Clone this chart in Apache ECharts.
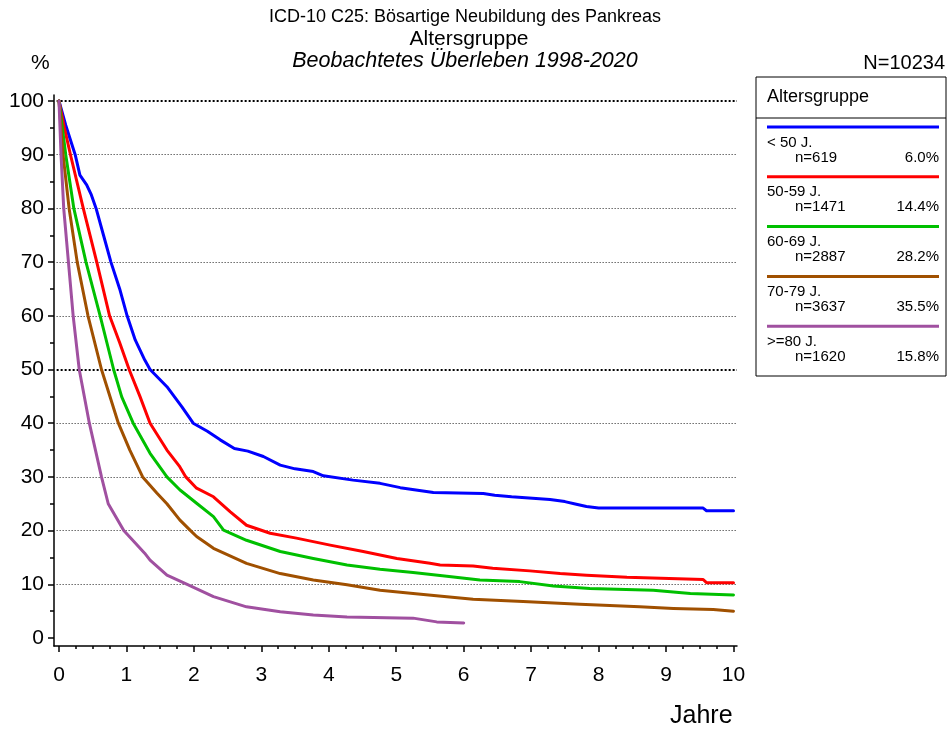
<!DOCTYPE html>
<html>
<head>
<meta charset="utf-8">
<script src="https://cdn.jsdelivr.net/npm/echarts@6/dist/echarts.min.js"></script>
<style>html,body{margin:0;padding:0;background:#fff}#c{width:949px;height:729px}</style>
</head>
<body>
<div id="c"></div>
<script>
// ---- data ----
const groupNames = ['< 50 J.', '50-59 J.', '60-69 J.', '70-79 J.', '>=80 J.'];
const groupCounts = ['n=619', 'n=1471', 'n=2887', 'n=3637', 'n=1620'];
const groupShares = ['6.0%', '14.4%', '28.2%', '35.5%', '15.8%'];
const groupColors = ['#0000ff', '#ff0000', '#00c000', '#a05000', '#a050a0'];
const xTicks = [0,1,2,3,4,5,6,7,8,9,10];
const xMinorTicks = [0.25,0.5,0.75,1.25,1.5,1.75,2.25,2.5,2.75,3.25,3.5,3.75,4.25,4.5,4.75,5.25,5.5,5.75,6.25,6.5,6.75,7.25,7.5,7.75,8.25,8.5,8.75,9.25,9.5,9.75];
const yTicks = [0,10,20,30,40,50,60,70,80,90,100];
const yMinorTicks = [5,15,25,35,45,55,65,75,85,95];
const gridValues = [10,20,30,40,60,70,80,90];
const gridValuesBold = [50,100];

const under50 = [[0,100],[0.1,95.5],[0.24,90],[0.31,86.2],[0.41,84.4],[0.48,82.5],[0.55,80],[0.66,75],[0.77,70],[0.9,65],[1.01,60],[1.13,55.5],[1.27,51.8],[1.35,50],[1.6,46.8],[1.82,43.1],[1.99,40],[2.2,38.5],[2.39,36.9],[2.6,35.3],[2.8,34.8],[3.03,33.8],[3.28,32.2],[3.5,31.5],[3.77,31.0],[3.92,30.2],[4.36,29.4],[4.76,28.8],[5.06,28.0],[5.55,27.1],[6.29,26.9],[6.46,26.6],[6.71,26.3],[7.28,25.8],[7.5,25.4],[7.67,24.9],[7.82,24.5],[8.0,24.2],[9.55,24.2],[9.6,23.7],[10,23.7]];
const age5059 = [[0,100],[0.08,95],[0.17,90],[0.36,80],[0.56,70],[0.75,60],[0.9,55],[1.04,50],[1.2,45],[1.35,40],[1.6,35],[1.79,31.9],[1.88,30],[2.04,27.9],[2.29,26.3],[2.54,23.5],[2.78,21.0],[3.13,19.5],[3.52,18.6],[4.02,17.3],[4.51,16.1],[5.01,14.8],[5.5,13.9],[5.65,13.6],[6.14,13.4],[6.43,13.0],[6.98,12.5],[7.43,12.0],[7.82,11.7],[8.42,11.3],[9.55,10.9],[9.6,10.3],[10,10.3]];
const age6069 = [[0,100],[0.05,95],[0.10,90],[0.22,80],[0.40,70],[0.61,60],[0.81,50],[0.93,44.9],[1.10,40],[1.35,34.4],[1.6,30],[1.79,27.6],[2.04,25.1],[2.29,22.6],[2.44,20.1],[2.78,18.2],[3.28,16.1],[3.77,14.8],[4.27,13.6],[4.76,12.8],[5.25,12.2],[5.75,11.5],[6.24,10.8],[6.83,10.5],[7.33,9.7],[7.87,9.2],[8.81,8.9],[9.36,8.3],[10,8.0]];
const age7079 = [[0,100],[0.03,95],[0.06,90],[0.15,80],[0.27,70],[0.43,60],[0.63,50],[0.88,40],[1.05,35],[1.24,30],[1.45,27],[1.6,25],[1.79,22.0],[1.95,20],[2.04,18.9],[2.29,16.7],[2.78,13.9],[3.28,12.0],[3.77,10.8],[4.27,9.9],[4.76,8.9],[5.25,8.3],[5.75,7.7],[6.14,7.2],[6.88,6.8],[7.72,6.3],[8.61,5.8],[9.11,5.5],[9.7,5.3],[10,5.0]];
const age80plus = [[0,100],[0.015,95],[0.03,90],[0.07,80],[0.14,70],[0.21,60],[0.30,50],[0.45,40],[0.63,30],[0.73,25],[0.96,20],[1.27,15.8],[1.35,14.5],[1.6,11.7],[1.9,10],[2.29,7.7],[2.78,5.8],[3.28,4.9],[3.77,4.3],[4.27,3.9],[5.25,3.7],[5.6,3.0],[6.0,2.8]];
const seriesData = [under50, age5059, age6069, age7079, age80plus];

// ---- chart ----
const chart = echarts.init(document.getElementById('c'), null, {renderer: 'canvas'});
const FONT = 'Liberation Sans, Arial, sans-serif';
const X_MIN = -0.0741, X_MAX = 10.052, Y_MIN = -1.49, Y_MAX = 101.12;

const series = seriesData.map((d, i) => ({
  type: 'line', name: groupNames[i], data: d, xAxisIndex: 0, yAxisIndex: 0,
  showSymbol: false, symbol: 'none', silent: true, z: 5 + i,
  lineStyle: {color: groupColors[i], width: 3, join: 'round', cap: 'round'}, itemStyle: {color: groupColors[i]}
}));
const gridLine = (v, bold) => [
  {coord: [-0.035, v], lineStyle: bold ? {color: '#000', width: 2, type: [2, 2]} : {color: '#222', width: 1, type: [1, 2]}},
  {coord: [X_MAX, v]}
];
series.unshift({
  type: 'line', data: [], xAxisIndex: 0, yAxisIndex: 0, silent: true, z: 2,
  markLine: {
    silent: true, symbol: 'none', label: {show: false}, animation: false,
    data: gridValues.map(v => gridLine(v, false)).concat(gridValuesBold.map(v => gridLine(v, true)))
  }
});

const legendGraphics = [
  {type: 'rect', shape: {x: 756, y: 77, width: 190, height: 299}, style: {fill: '#fff', stroke: '#000', lineWidth: 1}},
  {type: 'text', x: 767, y: 97, style: {text: 'Altersgruppe', font: '18px ' + FONT, fill: '#000', verticalAlign: 'middle'}},
  {type: 'line', shape: {x1: 756, y1: 118, x2: 946, y2: 118}, style: {stroke: '#000', lineWidth: 1}}
];
groupNames.forEach((n, i) => {
  const y0 = 127 + i * 49.8;
  legendGraphics.push(
    {type: 'line', shape: {x1: 767, y1: y0, x2: 939, y2: y0}, style: {stroke: groupColors[i], lineWidth: 3}},
    {type: 'text', x: 767, y: y0 + 15.5, style: {text: n, font: '15px ' + FONT, fill: '#000', verticalAlign: 'middle'}},
    {type: 'text', x: 795, y: y0 + 30.5, style: {text: groupCounts[i], font: '15px ' + FONT, fill: '#000', verticalAlign: 'middle'}},
    {type: 'text', x: 939, y: y0 + 30.5, style: {text: groupShares[i], font: '15px ' + FONT, fill: '#000', align: 'right', verticalAlign: 'middle'}}
  );
});

const tickStyle = {color: '#000', width: 1.5};
const option = {
  animation: false,
  backgroundColor: '#fff',
  textStyle: {fontFamily: FONT},
  title: [
    {text: 'ICD-10 C25: Bösartige Neubildung des Pankreas', left: 465, top: 8.5, padding: 0, textAlign: 'center', textStyle: {fontSize: 18, fontWeight: 'normal', color: '#000', fontFamily: FONT}},
    {text: 'Altersgruppe', left: 469, top: 28.5, padding: 0, textAlign: 'center', textStyle: {fontSize: 21, fontWeight: 'normal', color: '#000', fontFamily: FONT}},
    {text: 'Beobachtetes Überleben 1998-2020', left: 465, top: 50.5, padding: 0, textAlign: 'center', textStyle: {fontSize: 21.5, fontWeight: 'normal', fontStyle: 'italic', color: '#000', fontFamily: FONT}},
    {text: '%', left: 31, top: 52.5, padding: 0, textStyle: {fontSize: 21, fontWeight: 'normal', color: '#000', fontFamily: FONT}},
    {text: 'N=10234', right: 4, top: 53, padding: 0, textStyle: {fontSize: 20, fontWeight: 'normal', color: '#000', fontFamily: FONT}},
    {text: 'Jahre', left: 670, top: 703.5, padding: 0, textStyle: {fontSize: 25, fontWeight: 'normal', color: '#000', fontFamily: FONT}}
  ],
  grid: [{left: 54, right: 212, top: 95, bottom: 83}],
  xAxis: [
    {type: 'value', gridIndex: 0, position: 'bottom', min: X_MIN, max: X_MAX,
     axisLine: {show: true, onZero: false, lineStyle: tickStyle}, splitLine: {show: false},
     axisTick: {show: true, length: 6, lineStyle: tickStyle, customValues: xTicks},
     axisLabel: {margin: 19, fontSize: 21, color: '#000', fontFamily: FONT, customValues: xTicks}},
    {type: 'value', gridIndex: 0, position: 'bottom', min: X_MIN, max: X_MAX,
     axisLine: {show: false, onZero: false}, splitLine: {show: false},
     axisTick: {show: true, length: 3, lineStyle: tickStyle, customValues: xMinorTicks},
     axisLabel: {show: false}}
  ],
  yAxis: [
    {type: 'value', gridIndex: 0, position: 'left', min: Y_MIN, max: Y_MAX,
     axisLine: {show: true, onZero: false, lineStyle: tickStyle}, splitLine: {show: false},
     axisTick: {show: true, length: 6, lineStyle: tickStyle, customValues: yTicks},
     axisLabel: {margin: 10, fontSize: 21, color: '#000', fontFamily: FONT, customValues: yTicks}},
    {type: 'value', gridIndex: 0, position: 'left', min: Y_MIN, max: Y_MAX,
     axisLine: {show: false, onZero: false}, splitLine: {show: false},
     axisTick: {show: true, length: 4, lineStyle: tickStyle, customValues: yMinorTicks},
     axisLabel: {show: false}}
  ],
  graphic: legendGraphics,
  series: series
};
chart.setOption(option);
</script>
</body>
</html>
